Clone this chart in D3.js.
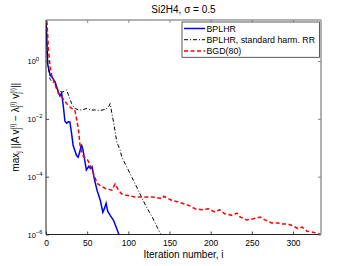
<!DOCTYPE html>
<html>
<head>
<meta charset="utf-8">
<script src="https://cdn.jsdelivr.net/npm/d3@7"></script>
<style>
html,body{margin:0;padding:0;background:#fff;}
svg{display:block;font-family:"Liberation Sans",Arial,sans-serif;}
</style>
</head>
<body>
<div id="chart"></div>
<script>
// ---- data ----
const titleText = "Si2H4, \u03c3 = 0.5";
const xLabelText = "Iteration number, i";
const seriesNames = ["BPLHR", "BPLHR, standard harm. RR", "BGD(80)"];
const xTicks = [0, 50, 100, 150, 200, 250, 300];
const yTickExps = [0, -2, -4, -6];

const bplhrIter = [0,1,2,3,5,8,11,15,17,19,21,23,25,27,29,31,33,37,39,41,43,45,49,52,54,56,59,62,66,69,71,73,75,78,82,84,88,90];
const bplhrRes  = [40,5.4,0.79,0.58,0.33,0.26,0.19,0.085,0.062,0.078,0.028,0.0083,0.0071,0.0079,0.0078,0.0032,0.0012,5.5e-4,4.7e-4,7.1e-4,1.3e-3,8.3e-4,1.7e-4,2.3e-4,1.9e-4,2.2e-4,7.6e-5,3.4e-5,1.5e-5,5.9e-6,8e-6,1.2e-5,6.3e-6,4.6e-6,3.1e-6,2.2e-6,1.1e-6,7.2e-7];

const stdIter = [0,1,2,3,5,8,11,14,17,20,23,25,27,29,31,35,40,45,50,55,60,66,72,76,78,79,80,82,84,86,90,92,98,106,114,122,129,135,139,141];
const stdRes  = [40,5.4,0.79,0.58,0.23,0.19,0.15,0.11,0.087,0.085,0.093,0.1,0.071,0.05,0.034,0.023,0.020,0.021,0.023,0.020,0.0204,0.0195,0.0214,0.026,0.034,0.023,0.0155,0.0079,0.0035,0.0016,8.3e-4,4.8e-4,2.2e-4,7.6e-5,2.6e-5,8.9e-6,4e-6,1.8e-6,1.07e-6,7.2e-7];

const bgdIter = [0,1,3,5,7,11,15,19,25,31,35,37.5,39.5,41.5,45.5,50.5,53.5,56,62,66,72,80,84,88,92,96,108,118,129,141,143,153,161,173,181,189,197,205,211,217,226,232,236,244,252,260,266,274,282,288,294,298,306,311,317,323,331,334];
const bgdRes  = [40,28,2.4,0.63,0.32,0.15,0.076,0.058,0.034,0.023,0.020,0.0089,0.0041,0.0011,5e-4,3.8e-4,2.5e-4,1.7e-4,5.9e-5,4.9e-5,3.9e-5,3.4e-5,5.6e-5,3.4e-5,2.5e-5,2.3e-5,2e-5,2e-5,2e-5,1.74e-5,2.1e-5,1.5e-5,1.32e-5,1.02e-5,7.8e-6,7.2e-6,7.8e-6,6e-6,7.2e-6,5.2e-6,4.6e-6,5.5e-6,4e-6,3.2e-6,3.5e-6,4e-6,3.2e-6,2.5e-6,2.5e-6,2.3e-6,2.3e-6,2.1e-6,1.6e-6,1.8e-6,1.3e-6,1.23e-6,1.07e-6,1e-6];

// ---- layout ----
const W = 354, H = 266;
const L = 46, R = 321, T = 20, B = 234.5;

const svg = d3.select("#chart").append("svg").attr("width", W).attr("height", H);

const x = d3.scaleLinear().domain([0, 334]).range([L, R]);
const y = d3.scaleLog().domain([1e-6, Math.pow(10, 1.42)]).range([B, T]);

svg.append("defs").append("clipPath").attr("id", "clip")
  .append("rect").attr("x", L).attr("y", T).attr("width", R - L).attr("height", B - T);

// plot background
svg.append("rect").attr("x", L).attr("y", T).attr("width", R - L).attr("height", B - T).attr("fill", "#fff");

const line = d3.line().x(d => x(d[0])).y(d => y(d[1]));
const g = svg.append("g").attr("clip-path", "url(#clip)");

const series = [
  {name: seriesNames[0], it: bplhrIter, v: bplhrRes, color: "#0000ff", w: 1.5, dash: null},
  {name: seriesNames[1], it: stdIter, v: stdRes, color: "#000000", w: 1, dash: "4,2,1,2"},
  {name: seriesNames[2], it: bgdIter, v: bgdRes, color: "#ff0000", w: 1.5, dash: "4,2.5"}
];
series.forEach(s => {
  g.append("path")
    .datum(s.it.map((d, i) => [d, s.v[i]]))
    .attr("d", line)
    .attr("fill", "none")
    .attr("stroke", s.color)
    .attr("stroke-width", s.w)
    .attr("stroke-dasharray", s.dash);
});

// ---- axes (Matlab-style inward ticks, box) ----
const tl = 3;
const axisG = svg.append("g");
// bottom axis
const xb = axisG.append("g").attr("transform", `translate(0,${B})`)
  .call(d3.axisBottom(x).tickValues(xTicks).tickSize(-tl).tickPadding(5).tickFormat(d3.format("d")));
// top axis
const xt = axisG.append("g").attr("transform", `translate(0,${T})`)
  .call(d3.axisTop(x).tickValues(xTicks).tickSize(-tl).tickFormat(""));
// left axis
const yl = axisG.append("g").attr("transform", `translate(${L},0)`)
  .call(d3.axisLeft(y).tickValues(yTickExps.map(e => Math.pow(10, e))).tickSize(-tl).tickFormat(""));
// right axis
const yr = axisG.append("g").attr("transform", `translate(${R},0)`)
  .call(d3.axisRight(y).tickValues(yTickExps.map(e => Math.pow(10, e))).tickSize(-tl).tickFormat(""));

[xb, yl].forEach(a => { a.select(".domain").attr("stroke", "#222").attr("stroke-width", 1); a.selectAll(".tick line").attr("stroke", "#444"); });
[xt, yr].forEach(a => { a.select(".domain").attr("stroke", "#999").attr("stroke-width", 1.5); a.selectAll(".tick line").attr("stroke", "#888"); });
xb.selectAll(".tick text").attr("font-size", 8.5).attr("fill", "#000").attr("font-family", "Liberation Sans, Arial, sans-serif");
xb.selectAll("path.domain").attr("d", `M${L},0H${R}`);
xt.selectAll("path.domain").attr("d", `M${L},0H${R}`);
yl.selectAll("path.domain").attr("d", `M0,${T}V${B}`);
yr.selectAll("path.domain").attr("d", `M0,${T}V${B}`);

// y tick labels 10^e
yTickExps.forEach(e => {
  const t = svg.append("text").attr("x", 27.5).attr("y", y(Math.pow(10, e)) + 3.2)
    .attr("font-size", 7.5).attr("fill", "#000");
  t.append("tspan").text("10");
  t.append("tspan").attr("dy", -3.6).attr("font-size", 5.8).text(e === 0 ? "0" : "\u2212" + Math.abs(e));
});

// ---- title & labels ----
svg.append("text").attr("x", (L + R) / 2).attr("y", 12.5).attr("text-anchor", "middle")
  .attr("font-size", 10).attr("fill", "#000").text(titleText);
svg.append("text").attr("x", (L + R) / 2).attr("y", 257.5).attr("text-anchor", "middle")
  .attr("font-size", 10).attr("fill", "#000").text(xLabelText);

// y label: max_j ||A v_j^(i) - λ_j^(i) v_j^(i)||
const yLab = svg.append("text").attr("transform", `translate(18.5,${(T + B) / 2}) rotate(-90)`)
  .attr("text-anchor", "middle").attr("font-size", 10).attr("fill", "#000");
const subF = 6.5, supW = 5.8;
function sub(txt) { yLab.append("tspan").attr("font-size", subF).attr("dy", 2.6).text(txt); }
function supAfterSub(txt) { yLab.append("tspan").attr("font-size", subF).attr("dx", -1.5).attr("dy", -6.4).text(txt); }
function base(txt) { yLab.append("tspan").attr("dy", 3.8).text(txt); }
yLab.append("tspan").text("max");
sub("j");
yLab.append("tspan").attr("dy", -2.6).text(" ||A v");
sub("j"); supAfterSub("(i)");
base(" \u2212 \u03bb");
sub("j"); supAfterSub("(i)");
base(" v");
sub("j"); supAfterSub("(i)");
base("||");

// ---- legend ----
const lg = svg.append("g");
lg.append("rect").attr("x", 182).attr("y", 22).attr("width", 137.5).attr("height", 35.3)
  .attr("fill", "#fff").attr("stroke", "#333").attr("stroke-width", 0.8);
series.forEach((s, i) => {
  const yy = 28.5 + i * 11.2;
  lg.append("line").attr("x1", 184).attr("x2", 205).attr("y1", yy).attr("y2", yy)
    .attr("stroke", s.color).attr("stroke-width", s.w).attr("stroke-dasharray", s.dash);
  lg.append("text").attr("x", 206.5).attr("y", yy + 3.1).attr("font-size", 8.8).attr("fill", "#000").text(s.name);
});
</script>
</body>
</html>
